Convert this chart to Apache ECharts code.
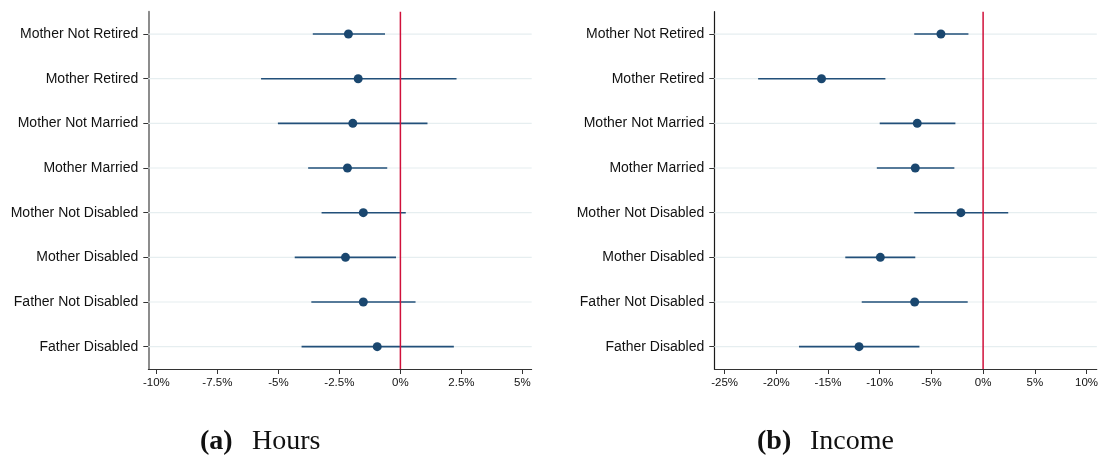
<!DOCTYPE html>
<html>
<head>
<meta charset="utf-8">
<script src="https://cdn.jsdelivr.net/npm/echarts@6/dist/echarts.min.js"></script>
<style>
html,body{margin:0;padding:0;background:#fff;}
#chart{width:1101px;height:458px;}
</style>
</head>
<body>
<div id="chart"></div>
<script>
// ---------- data ----------
const categories = ['Mother Not Retired','Mother Retired','Mother Not Married','Mother Married',
  'Mother Not Disabled','Mother Disabled','Father Not Disabled','Father Disabled'];

const hoursEst = [-2.13, -1.73, -1.95, -2.17, -1.52, -2.25, -1.52, -0.95];
const hoursLo  = [-3.59, -5.71, -5.02, -3.78, -3.23, -4.33, -3.65, -4.05];
const hoursHi  = [-0.63,  2.30,  1.11, -0.54,  0.22, -0.18,  0.62,  2.19];

const incomeEst = [-4.08, -15.63, -6.37, -6.56, -2.15,  -9.94,  -6.62, -12.00];
const incomeLo  = [-6.66, -21.76, -10.00, -10.28, -6.66, -13.33, -11.74, -17.81];
const incomeHi  = [-1.42,  -9.45,  -2.68,  -2.78,  2.43,  -6.56,  -1.49,  -6.16];

const hoursTicks  = [-10, -7.5, -5, -2.5, 0, 2.5, 5];
const incomeTicks = [-25, -20, -15, -10, -5, 0, 5, 10];

const panelTitles = [['(a)', 'Hours'], ['(b)', 'Income']];

// ---------- chart ----------
const hoursRange  = [-10.33, 5.38];
const incomeRange = [-26.0, 11.0];
const catPos = categories.map((c, i) => i + 1);
const navy = '#1a476f';
const ciColor = '#22507a';
const red = '#d0103a';

function xAxisCfg(idx, range, ticks) {
  return {
    type: 'value', gridIndex: idx, min: range[0], max: range[1],
    splitLine: {show: false},
    axisLine: {show: true, onZero: false, lineStyle: {color: '#333', width: 1}},
    axisTick: {show: true, length: 5, customValues: ticks, lineStyle: {color: '#333'}},
    axisLabel: {customValues: ticks, formatter: v => v + '%', fontSize: 11.5,
      fontFamily: 'Liberation Sans, Arial, sans-serif', color: '#111', margin: 8}
  };
}
function yAxisCfg(idx, lineColor, lineWidth) {
  return {
    type: 'value', gridIndex: idx, min: 0.5, max: 8.5, inverse: true,
    axisLine: {show: true, onZero: false, lineStyle: {color: lineColor, width: lineWidth}},
    axisTick: {show: true, length: 5, customValues: catPos, lineStyle: {color: '#333'}},
    axisLabel: {customValues: catPos, formatter: v => categories[Math.round(v) - 1] || '',
      fontSize: 14, fontFamily: 'Liberation Sans, Arial, sans-serif', color: '#111', margin: 10},
    splitLine: {show: false}
  };
}
function gridLineSeries(idx, range) {
  return {
    type: 'custom', xAxisIndex: idx, yAxisIndex: idx, z: 1, silent: true,
    data: catPos.map(p => [range[0], range[1], p]),
    encode: {x: [0, 1], y: 2},
    renderItem: function (params, api) {
      const p1 = api.coord([api.value(0), api.value(2)]);
      const p2 = api.coord([api.value(1), api.value(2)]);
      return {type: 'line', shape: {x1: p1[0], y1: p1[1], x2: p2[0], y2: p2[1]},
        style: {stroke: '#e6eef0', lineWidth: 1.2}};
    }
  };
}
function ciSeries(idx, lo, hi) {
  return {
    type: 'custom', xAxisIndex: idx, yAxisIndex: idx, z: 2, silent: true,
    data: lo.map((v, i) => [v, hi[i], catPos[i]]),
    encode: {x: [0, 1], y: 2},
    renderItem: function (params, api) {
      const a = api.coord([api.value(0), api.value(2)]);
      const b = api.coord([api.value(1), api.value(2)]);
      return {type: 'line', shape: {x1: a[0], y1: a[1], x2: b[0], y2: b[1]},
        style: {stroke: ciColor, lineWidth: 1.6}};
    }
  };
}
function zeroLineSeries(idx) {
  return {
    type: 'custom', xAxisIndex: idx, yAxisIndex: idx, z: 4, silent: true,
    data: [[0, 0.5, 8.5]],
    encode: {x: 0, y: [1, 2]},
    renderItem: function (params, api) {
      const a = api.coord([api.value(0), api.value(1)]);
      const b = api.coord([api.value(0), api.value(2)]);
      return {type: 'line', shape: {x1: a[0], y1: a[1], x2: b[0], y2: b[1]},
        style: {stroke: red, lineWidth: 1.5}};
    }
  };
}
function pointSeries(idx, est) {
  return {
    type: 'scatter', xAxisIndex: idx, yAxisIndex: idx, z: 3, silent: true,
    symbol: 'circle', symbolSize: 9,
    itemStyle: {color: navy, opacity: 1},
    data: est.map((v, i) => [v, catPos[i]])
  };
}

const chart = echarts.init(document.getElementById('chart'));
chart.setOption({
  animation: false,
  backgroundColor: '#fff',
  grid: [
    {left: 148.3, top: 11.7, width: 383.4, height: 357.3},
    {left: 714.3, top: 11.7, width: 384.8, height: 357.3}
  ],
  xAxis: [xAxisCfg(0, hoursRange, hoursTicks), xAxisCfg(1, incomeRange, incomeTicks)],
  yAxis: [yAxisCfg(0, '#808080', 1.8), yAxisCfg(1, '#1a1a1a', 1.2)],
  series: [
    gridLineSeries(0, hoursRange), ciSeries(0, hoursLo, hoursHi), pointSeries(0, hoursEst), zeroLineSeries(0),
    gridLineSeries(1, incomeRange), ciSeries(1, incomeLo, incomeHi), pointSeries(1, incomeEst), zeroLineSeries(1)
  ],
  graphic: [
    {type: 'text', left: 200, top: 428, style: {text: panelTitles[0][0], font: 'bold 28px "Liberation Serif", serif', fill: '#111'}},
    {type: 'text', left: 252, top: 428, style: {text: panelTitles[0][1], font: '28px "Liberation Serif", serif', fill: '#111'}},
    {type: 'text', left: 757, top: 428, style: {text: panelTitles[1][0], font: 'bold 28px "Liberation Serif", serif', fill: '#111'}},
    {type: 'text', left: 810, top: 428, style: {text: panelTitles[1][1], font: '28px "Liberation Serif", serif', fill: '#111'}}
  ]
});
</script>
</body>
</html>
